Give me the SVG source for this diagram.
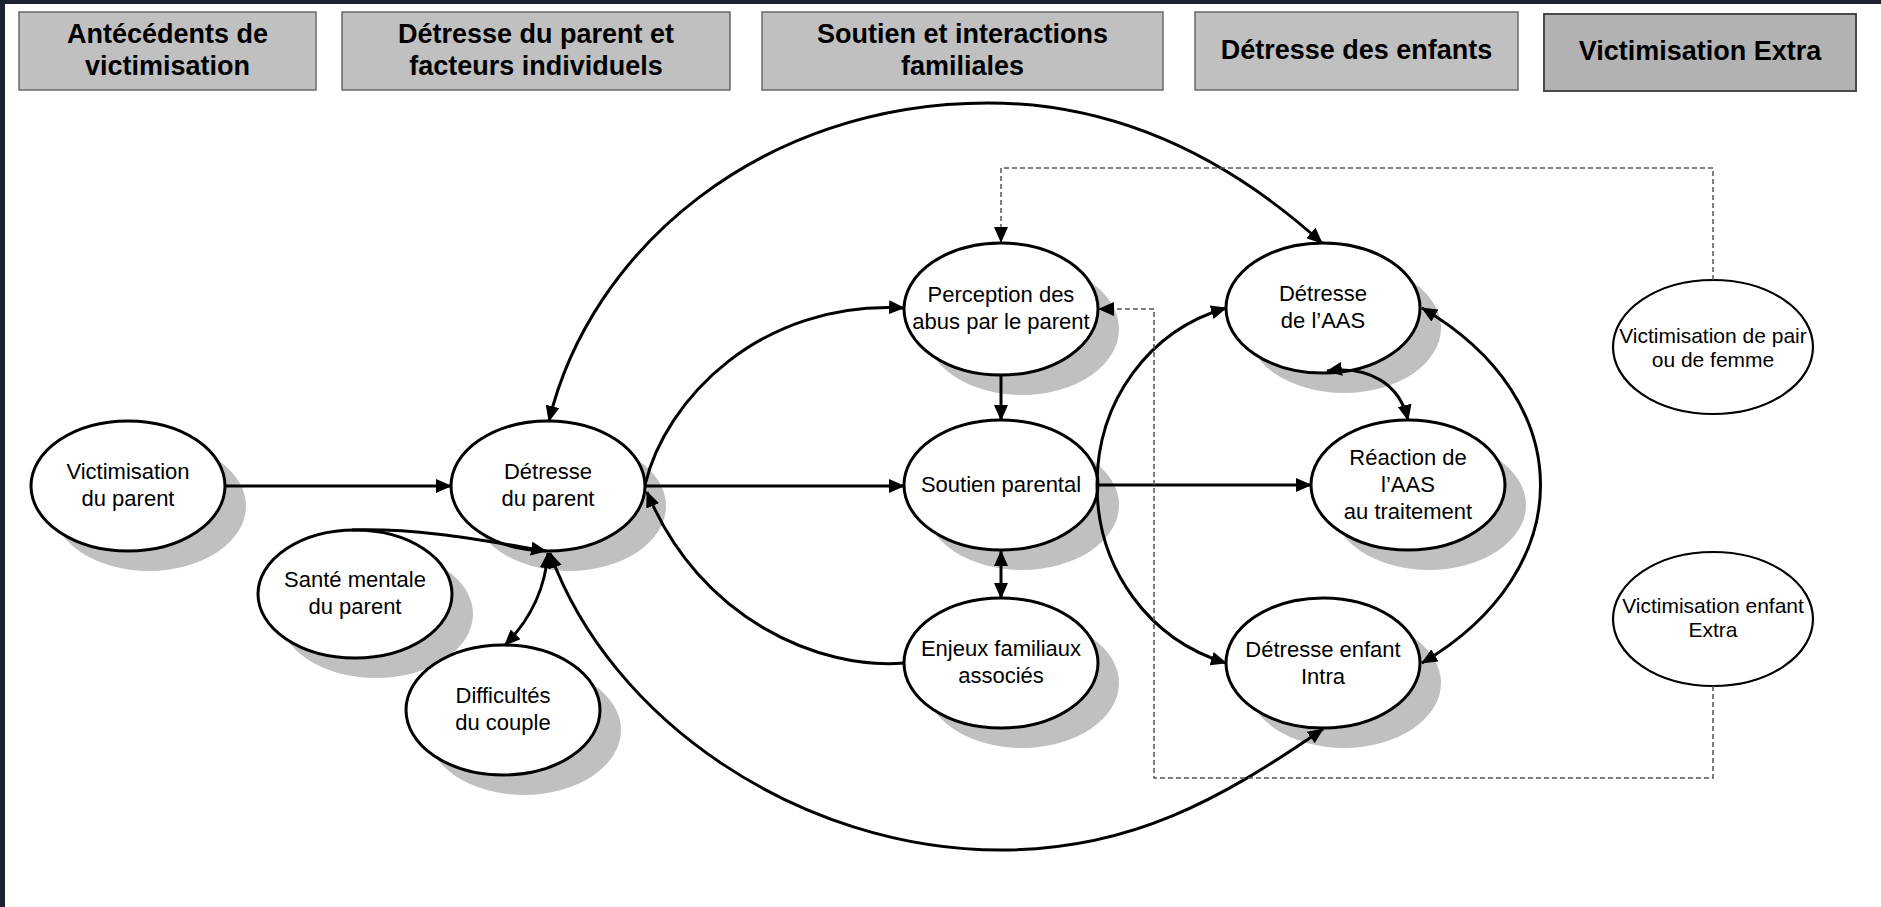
<svg xmlns="http://www.w3.org/2000/svg" width="1881" height="907" viewBox="0 0 1881 907">
<style>
.hdr{fill:#c0c0c0;stroke:#6a6a6a;stroke-width:1.5}
.hdr5{fill:#b2b2b2;stroke:#4a4a4a;stroke-width:2}
.ht{font-family:"Liberation Sans",Arial,sans-serif;font-weight:bold;font-size:27px;fill:#000;text-anchor:middle}
.sh{fill:#c0c0c0}
.nd{fill:#fff;stroke:#000;stroke-width:3}
.nd2{fill:#fff;stroke:#000;stroke-width:2.2}
.nt{font-family:"Liberation Sans",Arial,sans-serif;font-size:22px;fill:#000;text-anchor:middle}
.nt2{font-family:"Liberation Sans",Arial,sans-serif;font-size:21px;fill:#000;text-anchor:middle}
.c{fill:none;stroke:#000;stroke-width:3}
.d{fill:none;stroke:#555;stroke-width:1.5;stroke-dasharray:5 3}
</style>
<defs>
<marker id="ah" viewBox="0 0 16 14" refX="15" refY="7" markerWidth="16" markerHeight="14" markerUnits="userSpaceOnUse" orient="auto-start-reverse"><path d="M0,0 L16,7 L0,14 z" fill="#000"/></marker>
</defs>
<rect x="0" y="0" width="1881" height="907" fill="#fff"/>
<rect x="0" y="0" width="1881" height="4" fill="#1c2232"/>
<rect x="0" y="0" width="5" height="907" fill="#1c2232"/>

<g id="h1"><rect class="hdr" x="19" y="12" width="297" height="78"/><text class="ht" x="167.5" y="43">Antécédents de</text><text class="ht" x="167.5" y="75">victimisation</text></g>
<g id="h2"><rect class="hdr" x="342" y="12" width="388" height="78"/><text class="ht" x="536" y="43">Détresse du parent et</text><text class="ht" x="536" y="75">facteurs individuels</text></g>
<g id="h3"><rect class="hdr" x="762" y="12" width="401" height="78"/><text class="ht" x="962.5" y="43">Soutien et interactions</text><text class="ht" x="962.5" y="75">familiales</text></g>
<g id="h4"><rect class="hdr" x="1195" y="12" width="323" height="78"/><text class="ht" x="1356.5" y="59">Détresse des enfants</text></g>
<g id="h5"><rect class="hdr5" x="1544" y="14" width="312" height="77"/><text class="ht" x="1700" y="60">Victimisation Extra</text></g>

<g id="n1"><ellipse class="sh" cx="149" cy="506" rx="97" ry="65"/><ellipse class="nd" cx="128" cy="486" rx="97" ry="65"/><text class="nt" x="128" y="479">Victimisation</text><text class="nt" x="128" y="506">du parent</text></g>
<g id="n2"><ellipse class="sh" cx="569" cy="506" rx="97" ry="65"/><ellipse class="nd" cx="548" cy="486" rx="97" ry="65"/><text class="nt" x="548" y="479">Détresse</text><text class="nt" x="548" y="506">du parent</text></g>
<g id="n3"><ellipse class="sh" cx="376" cy="614" rx="97" ry="64"/><ellipse class="nd" cx="355" cy="594" rx="97" ry="64"/><text class="nt" x="355" y="587">Santé mentale</text><text class="nt" x="355" y="614">du parent</text></g>
<g id="n4"><ellipse class="sh" cx="524" cy="730" rx="97" ry="65"/><ellipse class="nd" cx="503" cy="710" rx="97" ry="65"/><text class="nt" x="503" y="703">Difficultés</text><text class="nt" x="503" y="730">du couple</text></g>
<g id="n5"><ellipse class="sh" cx="1022" cy="329" rx="97" ry="66"/><ellipse class="nd" cx="1001" cy="309" rx="97" ry="66"/><text class="nt" x="1001" y="302">Perception des</text><text class="nt" x="1001" y="329">abus par le parent</text></g>
<g id="n6"><ellipse class="sh" cx="1022" cy="505" rx="97" ry="65"/><ellipse class="nd" cx="1001" cy="485" rx="97" ry="65"/><text class="nt" x="1001" y="492">Soutien parental</text></g>
<g id="n7"><ellipse class="sh" cx="1022" cy="683" rx="97" ry="65"/><ellipse class="nd" cx="1001" cy="663" rx="97" ry="65"/><text class="nt" x="1001" y="656">Enjeux familiaux</text><text class="nt" x="1001" y="683">associés</text></g>
<g id="n8"><ellipse class="sh" cx="1344" cy="328" rx="97" ry="65"/><ellipse class="nd" cx="1323" cy="308" rx="97" ry="65"/><text class="nt" x="1323" y="301">Détresse</text><text class="nt" x="1323" y="328">de l’AAS</text></g>
<g id="n9"><ellipse class="sh" cx="1429" cy="505" rx="97" ry="65"/><ellipse class="nd" cx="1408" cy="485" rx="97" ry="65"/><text class="nt" x="1408" y="465">Réaction de</text><text class="nt" x="1408" y="492">l’AAS</text><text class="nt" x="1408" y="519">au traitement</text></g>
<g id="n10"><ellipse class="sh" cx="1344" cy="683" rx="97" ry="65"/><ellipse class="nd" cx="1323" cy="663" rx="97" ry="65"/><text class="nt" x="1323" y="657">Détresse enfant</text><text class="nt" x="1323" y="684">Intra</text></g>
<g id="n11"><ellipse class="nd2" cx="1713" cy="347" rx="100" ry="67"/><text class="nt2" x="1713" y="343">Victimisation de pair</text><text class="nt2" x="1713" y="367">ou de femme</text></g>
<g id="n12"><ellipse class="nd2" cx="1713" cy="619" rx="100" ry="67"/><text class="nt2" x="1713" y="613">Victimisation enfant</text><text class="nt2" x="1713" y="637">Extra</text></g>

<g id="connectors">
<path class="c" d="M225 486 L451 486" marker-end="url(#ah)"/>
<path class="c" d="M645 486 L904 486" marker-end="url(#ah)"/>
<path class="c" d="M1098 485 L1311 485" marker-end="url(#ah)"/>
<path class="c" d="M1001 375 L1001 420" marker-end="url(#ah)"/>
<path class="c" d="M1001 551 L1001 598" marker-start="url(#ah)" marker-end="url(#ah)"/>
<path class="c" d="M352 530 C420 528 480 540 546 551" marker-end="url(#ah)"/>
<path class="c" d="M548 553 C545 590 530 620 505 645" marker-start="url(#ah)" marker-end="url(#ah)"/>
<path class="c" d="M549 421 C590 250 760 103 988 103 C1120 103 1230 160 1322 243" marker-start="url(#ah)" marker-end="url(#ah)"/>
<path class="c" d="M550 553 C610 720 800 850 1001 850 C1130 850 1220 800 1323 729" marker-start="url(#ah)" marker-end="url(#ah)"/>
<path class="c" d="M645 485 C665 400 760 300 904 308" marker-end="url(#ah)"/>
<path class="c" d="M904 663 C820 670 700 620 647 492" marker-end="url(#ah)"/>
<path class="c" d="M1097 485 C1097 400 1150 330 1226 308" marker-end="url(#ah)"/>
<path class="c" d="M1097 485 C1097 570 1150 640 1226 663" marker-end="url(#ah)"/>
<path class="c" d="M1422 308 C1580 400 1580 570 1422 663" marker-start="url(#ah)" marker-end="url(#ah)"/>
<path class="c" d="M1327 371 C1370 365 1400 385 1408 420" marker-start="url(#ah)" marker-end="url(#ah)"/>
<path class="d" d="M1713 280 L1713 168 L1001 168 L1001 242" marker-end="url(#ah)"/>
<path class="d" d="M1713 686 L1713 778 L1154 778 L1154 309 L1099 309" marker-end="url(#ah)"/>
</g>
</svg>
